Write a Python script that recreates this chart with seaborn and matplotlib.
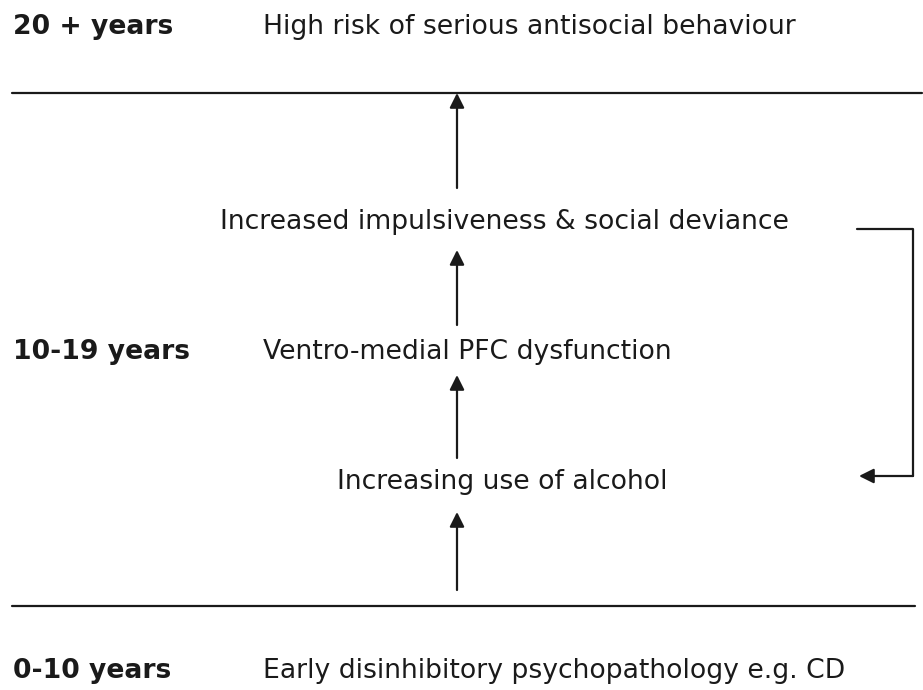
"""
developmental pathway diagram: disinhibitory psychopathology -> antisocial behaviour
"""
import matplotlib.pyplot as plt
import seaborn as sns
import pandas as pd
import numpy as np

sns.set_theme(style='white')
plt.rcParams['font.family'] = ['DejaVu Sans']

# ============================================ #
# content
# ============================================ #
age_labels = ['20 + years', '10-19 years', '0-10 years']
age_y = [27, 352, 671]

side_texts = ['High risk of serious antisocial behaviour',
              'Ventro-medial PFC dysfunction',
              'Early disinhibitory psychopathology e.g. CD']

centre_texts = ['Increased impulsiveness & social deviance',
                'Increasing use of alcohol']
centre_x = [220, 337]
centre_y = [222, 482]

# arrows up the central column (start, end) in pixel rows
arrow_x = 457
arrow_from = [188, 325, 458, 590]
arrow_to = [93, 250, 375, 512]

# period separators
sep_y = [93, 606]
sep_x0 = [12, 12]
sep_x1 = [922, 915]

# feedback loop from impulsiveness back to alcohol use
loop_x = [857, 913, 913, 859]
loop_y = [229, 229, 476, 476]

# ============================================ #
# plot
# ============================================ #
fig = plt.figure(figsize=(9.23, 6.9), dpi=100)
ax = fig.add_axes([0, 0, 1, 1])
ax.set(xlim=[0, 923], ylim=[690, 0])
ax.axis('off')

fs = 19.2

for lab, y, txt in zip(age_labels, age_y, side_texts):
    ax.text(13, y, lab, fontsize=fs, fontweight='bold', ha='left', va='center',
            color='k')
    ax.text(263, y, txt, fontsize=fs, ha='left', va='center', color='k')

for txt, x, y in zip(centre_texts, centre_x, centre_y):
    ax.text(x, y, txt, fontsize=fs, ha='left', va='center', color='k')

# horizontal separators
for y, x0, x1 in zip(sep_y, sep_x0, sep_x1):
    df = pd.DataFrame({'x': [x0, x1], 'y': [y, y]})
    sns.lineplot(data=df, x='x', y='y', color='k', lw=1.6, ax=ax,
                 sort=False, estimator=None)

# feedback bracket (last segment drawn by the arrow)
df = pd.DataFrame({'x': loop_x[:3], 'y': loop_y[:3]})
sns.lineplot(data=df, x='x', y='y', color='k', lw=1.6, ax=ax,
             sort=False, estimator=None)
ax.annotate('', xy=(loop_x[3], loop_y[3]), xytext=(loop_x[2], loop_y[2]),
            arrowprops=dict(arrowstyle='-|>', color='k', lw=1.6,
                            mutation_scale=22, shrinkA=0, shrinkB=0))

for y0, y1 in zip(arrow_from, arrow_to):
    ax.annotate('', xy=(arrow_x, y1), xytext=(arrow_x, y0),
                arrowprops=dict(arrowstyle='-|>', color='k', lw=1.6,
                                mutation_scale=22, shrinkA=0, shrinkB=0))

ax.set(xlabel='', ylabel='')
fig.savefig('out.png', dpi=100, facecolor='white')
